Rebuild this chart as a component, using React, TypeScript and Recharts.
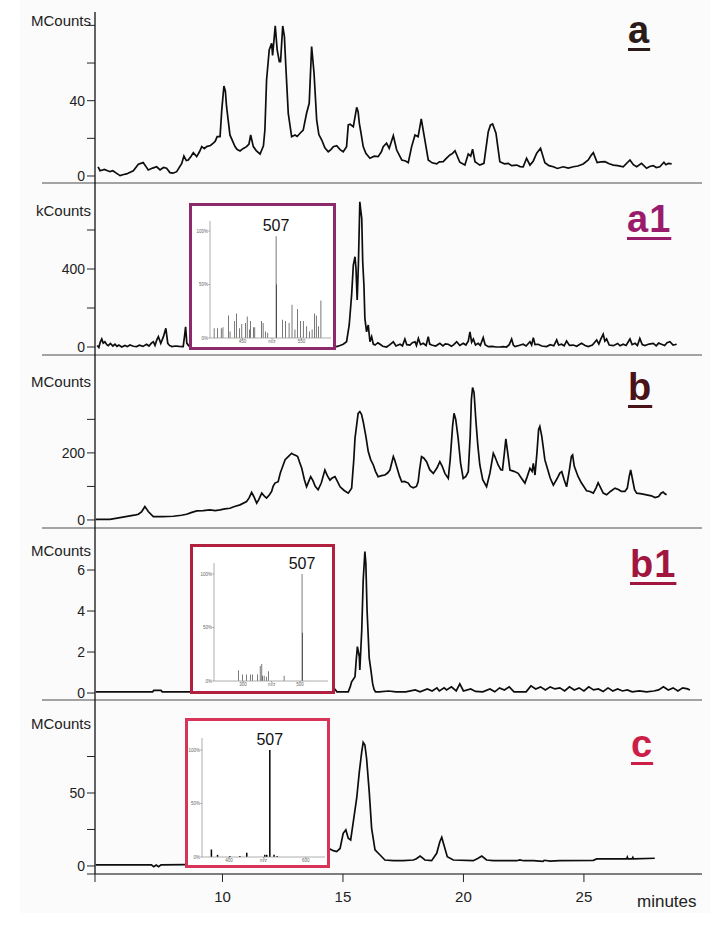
import { Bar, BarChart, LabelList, Line, LineChart, XAxis, YAxis } from "recharts";

const FONT = 'Arial, "Liberation Sans", Helvetica, sans-serif';

// shared retention-time axis (minutes)
const T_MIN = 4.71;
const T_MAX = 29.9;
const timeTicks = [T_MIN, 10, 15, 20, 25];

// [minutes, counts]
const traceA: [number, number][] = [
  [4.84, 4.9], [4.92, 2.8], [5.1, 3.5], [5.33, 2.3], [5.45, 2.8], [5.61, 1.4], [5.75, 0.2], [5.9, 0.8],
  [6.02, 1.1], [6.3, 2.8], [6.51, 6.2], [6.71, 7.1], [6.8, 5.5], [6.92, 3.2], [7.1, 4.2], [7.27, 4.9],
  [7.41, 3.2], [7.55, 4.5], [7.68, 4.1], [7.82, 1.8], [7.95, 1.5], [8.1, 2.3], [8.31, 6.7], [8.4, 10.6],
  [8.5, 8.2], [8.58, 8.5], [8.7, 10.5], [8.79, 12.4], [8.93, 10.3], [9.05, 13], [9.14, 15.6], [9.25, 14.5],
  [9.34, 15.6], [9.5, 16.2], [9.62, 17.4], [9.7, 18.5], [9.78, 20.9], [9.9, 20.9], [9.97, 35], [10.06, 47.8],
  [10.12, 45], [10.17, 36.8], [10.31, 21.8], [10.52, 15.6], [10.6, 14.2], [10.73, 13.3], [10.85, 14.5],
  [11.0, 15.6], [11.1, 17], [11.17, 21.8], [11.28, 15.6], [11.4, 13.5], [11.56, 11.7], [11.7, 16],
  [11.76, 24.4], [11.83, 51], [11.94, 67], [12.04, 70.5], [12.08, 64], [12.19, 79.7], [12.27, 67],
  [12.36, 60.7], [12.41, 60.7], [12.5, 79.7], [12.57, 74], [12.63, 58], [12.73, 33.3], [12.87, 20.9],
  [13.01, 21.8], [13.1, 21], [13.22, 22.7], [13.35, 24.4], [13.49, 33.3], [13.6, 38.6], [13.7, 68.7],
  [13.8, 54.6], [13.91, 29.7], [14.0, 22], [14.12, 19.1], [14.25, 15], [14.39, 12.9], [14.5, 14],
  [14.6, 15.6], [14.74, 16.1], [14.88, 14], [15.01, 12.9], [15.15, 15.6], [15.22, 27.1], [15.3, 27.5],
  [15.43, 26.2], [15.57, 36.5], [15.63, 34], [15.68, 28], [15.74, 23.5], [15.84, 15.6], [15.95, 12],
  [16.12, 9.4], [16.3, 10.5], [16.46, 10.3], [16.6, 13], [16.67, 15.6], [16.81, 17.4], [16.92, 14.7],
  [17.09, 21.4], [17.23, 13.8], [17.44, 8.5], [17.6, 8], [17.71, 7.1], [17.85, 15.6], [17.99, 21.8],
  [18.12, 20.9], [18.25, 30.3], [18.4, 19.1], [18.54, 8.5], [18.7, 7], [18.89, 6.4], [19.0, 7.5],
  [19.16, 7.6], [19.3, 9.5], [19.44, 11.2], [19.55, 12], [19.65, 13.4], [19.85, 7.3], [20.06, 5.8],
  [20.2, 11.7], [20.3, 10.5], [20.38, 14.2], [20.48, 7.6], [20.68, 5.8], [20.85, 6.7], [21.03, 23.5],
  [21.12, 27], [21.21, 27.6], [21.35, 22.7], [21.51, 7.6], [21.7, 6.5], [21.86, 6.7], [22.0, 5.5],
  [22.21, 5.8], [22.35, 5], [22.48, 4.9], [22.62, 9.4], [22.76, 5.8], [22.9, 8], [23.04, 12.1],
  [23.2, 14.7], [23.38, 7.1], [23.55, 5.5], [23.73, 4.9], [23.9, 4], [24.14, 4.9], [24.35, 4.2],
  [24.56, 4.9], [24.75, 5.3], [24.97, 6.4], [25.18, 8.5], [25.3, 11], [25.39, 12.4], [25.55, 7.1],
  [25.7, 7.5], [25.87, 7.6], [26.05, 6.5], [26.22, 5.8], [26.4, 5.5], [26.63, 4.9], [26.91, 8.5],
  [27.05, 6], [27.19, 4.9], [27.39, 6.7], [27.6, 4.1], [27.75, 5.2], [27.88, 5.5], [28.0, 4.5],
  [28.15, 4.9], [28.32, 7.3], [28.4, 6], [28.5, 6.7], [28.64, 6.4],
];

const traceA1: [number, number][] = [
  [4.8, 8], [4.87, -2], [4.93, 25], [4.99, 41], [5.05, 20], [5.12, 27], [5.2, 12], [5.26, 7], [5.35, 18],
  [5.45, 5], [5.54, 14], [5.62, 3], [5.7, 10], [5.82, 0], [5.95, 8], [6.05, 2], [6.16, 10], [6.3, 4],
  [6.44, 2], [6.55, 9], [6.7, 3], [6.85, 14], [6.95, 5], [7.05, 20], [7.13, 27], [7.2, 8], [7.27, 35],
  [7.34, 53], [7.44, 19], [7.55, 53], [7.65, 96], [7.73, 19], [7.8, 8], [7.9, 2], [8.05, 5], [8.2, 3],
  [8.37, 2], [8.43, 60], [8.47, 104], [8.52, 20], [8.6, 6], [9.5, 10], [10.5, 8], [11.5, 12], [12.5, 10],
  [13.5, 14], [14.5, 6], [14.74, 2], [14.88, 8], [15.01, 14], [15.15, 27], [15.26, 113], [15.36, 267],
  [15.43, 420], [15.5, 463], [15.54, 404], [15.59, 241], [15.64, 420], [15.68, 634], [15.7, 745],
  [15.74, 700], [15.78, 660], [15.82, 437], [15.87, 318], [15.91, 147], [15.98, 78], [16.05, 113],
  [16.12, 27], [16.19, 53], [16.26, 15], [16.33, 10], [16.45, 22], [16.54, 14], [16.65, 4], [16.81, 0],
  [16.95, 12], [17.09, 27], [17.2, 5], [17.37, 14], [17.47, 6], [17.57, 41], [17.65, 12], [17.78, 10],
  [17.88, 22], [17.99, 27], [18.05, 8], [18.13, 44], [18.22, 12], [18.33, 19], [18.45, 8], [18.54, 53],
  [18.6, 15], [18.68, 10], [18.85, 5], [19.02, 19], [19.15, 6], [19.25, 16], [19.37, 14], [19.5, 4],
  [19.6, 12], [19.72, 27], [19.85, 8], [19.99, 19], [20.1, 10], [20.2, 30], [20.27, 78], [20.34, 25],
  [20.41, 41], [20.5, 10], [20.61, 19], [20.7, 8], [20.82, 48], [20.9, 12], [21.03, 2], [21.2, 3],
  [21.35, 0], [21.51, 0], [21.65, 2], [21.79, 0], [21.9, 12], [22.0, 41], [22.07, 10], [22.14, 2],
  [22.3, 8], [22.48, 14], [22.6, 5], [22.76, 27], [22.83, 10], [22.9, 48], [22.97, 12], [23.1, 14],
  [23.25, 5], [23.45, 2], [23.6, 12], [23.75, 6], [23.87, 36], [23.95, 10], [24.07, 14], [24.18, 6],
  [24.28, 31], [24.4, 8], [24.56, 10], [24.7, 4], [24.9, 19], [25.05, 8], [25.18, 2], [25.35, 10],
  [25.53, 36], [25.62, 15], [25.7, 40], [25.8, 65], [25.87, 30], [25.94, 41], [26.05, 10], [26.22, 7],
  [26.4, 18], [26.5, 6], [26.63, 14], [26.75, 8], [26.91, 41], [27.0, 12], [27.12, 19], [27.22, 8],
  [27.32, 44], [27.42, 12], [27.53, 7], [27.7, 15], [27.88, 19], [28.0, 6], [28.1, 20], [28.22, 14],
  [28.35, 8], [28.45, 22], [28.57, 27], [28.7, 10], [28.85, 14],
];

const traceB: [number, number][] = [
  [4.74, 1], [4.78, 2], [5.33, 2], [5.75, 7], [6.16, 12], [6.4, 15], [6.51, 17], [6.65, 25], [6.78, 40],
  [6.85, 33], [6.92, 25], [7.13, 10], [7.5, 10], [7.96, 11], [8.3, 14], [8.51, 17], [8.7, 22], [8.93, 27],
  [9.2, 28], [9.48, 30], [9.7, 28], [9.9, 30], [10.1, 33], [10.31, 35], [10.5, 40], [10.73, 45], [11.0, 55],
  [11.1, 65], [11.21, 82], [11.3, 70], [11.42, 50], [11.5, 60], [11.63, 80], [11.75, 70], [11.83, 65],
  [11.95, 75], [12.04, 85], [12.1, 100], [12.18, 110], [12.31, 114], [12.4, 140], [12.52, 164], [12.6, 180],
  [12.73, 189], [12.87, 199], [12.95, 195], [13.05, 192], [13.12, 189], [13.2, 172], [13.29, 154],
  [13.4, 120], [13.49, 99], [13.55, 110], [13.66, 129], [13.75, 118], [13.85, 100], [13.97, 90],
  [14.1, 110], [14.25, 149], [14.35, 132], [14.46, 119], [14.55, 125], [14.67, 129], [14.75, 118],
  [14.88, 99], [15.05, 88], [15.22, 80], [15.36, 95], [15.45, 180], [15.5, 244], [15.63, 318], [15.7, 323],
  [15.77, 315], [15.84, 293], [15.95, 250], [16.05, 204], [16.15, 180], [16.26, 164], [16.35, 145],
  [16.46, 129], [16.6, 132], [16.74, 134], [16.85, 140], [16.95, 149], [17.09, 189], [17.15, 178],
  [17.23, 159], [17.35, 130], [17.44, 114], [17.55, 115], [17.71, 110], [17.8, 100], [17.92, 96],
  [18.05, 100], [18.12, 114], [18.18, 150], [18.26, 189], [18.35, 185], [18.47, 174], [18.6, 150],
  [18.75, 139], [18.9, 155], [19.02, 174], [19.12, 160], [19.23, 139], [19.37, 124], [19.45, 180],
  [19.55, 280], [19.61, 318], [19.68, 300], [19.78, 244], [19.88, 170], [19.99, 124], [20.1, 130],
  [20.2, 144], [20.28, 250], [20.33, 360], [20.38, 395], [20.44, 380], [20.52, 293], [20.6, 220],
  [20.68, 164], [20.8, 120], [20.96, 99], [21.1, 140], [21.24, 199], [21.3, 190], [21.44, 164],
  [21.55, 150], [21.62, 149], [21.7, 200], [21.76, 242], [21.82, 210], [21.93, 149], [22.1, 145],
  [22.27, 139], [22.4, 125], [22.55, 110], [22.65, 130], [22.76, 154], [22.85, 145], [22.9, 169],
  [22.97, 134], [23.05, 200], [23.12, 270], [23.17, 279], [23.25, 250], [23.38, 179], [23.5, 150],
  [23.6, 125], [23.73, 104], [23.9, 125], [24.0, 140], [24.08, 144], [24.18, 120], [24.28, 99],
  [24.4, 150], [24.48, 190], [24.53, 194], [24.6, 160], [24.76, 129], [24.9, 110], [25.11, 87],
  [25.25, 85], [25.39, 80], [25.5, 95], [25.59, 111], [25.7, 95], [25.8, 80], [25.94, 75], [26.1, 85],
  [26.29, 95], [26.45, 90], [26.55, 85], [26.7, 85], [26.8, 95], [26.88, 130], [26.94, 149], [27.02, 120],
  [27.1, 90], [27.19, 80], [27.4, 78], [27.6, 75], [27.8, 72], [27.95, 67], [28.1, 70], [28.2, 80],
  [28.29, 83], [28.36, 78], [28.43, 75],
];

const traceB1: [number, number][] = [
  [4.74, 0.06], [7.1, 0.06], [7.15, 0.13], [7.45, 0.13], [7.5, 0.06], [8.6, 0.06], [10, 0.06], [12, 0.06],
  [14.5, 0.06], [14.67, 0.18], [14.75, 0.06], [14.88, 0.06], [15.22, 0.06], [15.3, 0.3], [15.36, 0.55],
  [15.5, 0.8], [15.55, 1.6], [15.6, 2.26], [15.68, 1.77], [15.7, 1.12], [15.78, 3.07], [15.84, 5.5],
  [15.91, 6.9], [15.95, 6.33], [16.0, 4.05], [16.09, 1.7], [16.16, 1.12], [16.23, 0.47], [16.29, 0.18],
  [16.35, 0.06], [16.5, 0.06], [16.9, 0.1], [17.2, 0.06], [17.6, 0.06], [18.0, 0.15], [18.2, 0.06],
  [18.5, 0.2], [18.7, 0.1], [18.9, 0.25], [19.0, 0.1], [19.2, 0.25], [19.3, 0.15], [19.5, 0.3],
  [19.7, 0.1], [19.85, 0.45], [20.0, 0.1], [20.3, 0.2], [20.5, 0.08], [20.8, 0.06], [21.1, 0.2],
  [21.3, 0.06], [21.5, 0.25], [21.7, 0.15], [21.9, 0.3], [22.1, 0.06], [22.3, 0.06], [22.6, 0.06],
  [22.8, 0.35], [23.0, 0.2], [23.2, 0.3], [23.4, 0.15], [23.6, 0.3], [23.8, 0.2], [24.0, 0.25],
  [24.2, 0.1], [24.4, 0.3], [24.6, 0.15], [24.8, 0.25], [25.0, 0.1], [25.2, 0.3], [25.4, 0.15],
  [25.6, 0.2], [25.8, 0.08], [26.0, 0.25], [26.2, 0.1], [26.4, 0.2], [26.6, 0.1], [26.8, 0.15],
  [27.0, 0.06], [27.3, 0.1], [27.6, 0.06], [27.9, 0.1], [28.1, 0.15], [28.3, 0.3], [28.5, 0.15],
  [28.7, 0.25], [28.9, 0.1], [29.1, 0.25], [29.3, 0.2], [29.4, 0.15],
];

const traceC: [number, number][] = [
  [4.74, 0.8], [7.05, 0.8], [7.15, -0.5], [7.25, 0.6], [7.35, -0.5], [7.45, 0.8], [8.5, 0.9], [10, 1],
  [12, 1.5], [13.5, 4], [14.2, 8], [14.46, 11.6], [14.6, 10.5], [14.74, 9.8], [14.88, 12], [15.01, 22.4],
  [15.12, 24.7], [15.22, 19], [15.32, 17.8], [15.43, 30.3], [15.57, 46.4], [15.68, 64.6], [15.78, 78.3],
  [15.84, 84.7], [15.91, 82.9], [15.98, 73.8], [16.09, 50.9], [16.19, 25.8], [16.33, 11], [16.54, 7.5],
  [16.74, 4.1], [17.09, 3.6], [17.5, 3.6], [17.92, 4.1], [18.05, 5], [18.2, 6.8], [18.3, 5.5], [18.4, 4.1],
  [18.68, 3.6], [18.89, 8.7], [19.02, 16.6], [19.1, 19.7], [19.19, 14.4], [19.33, 6.4], [19.58, 4.1],
  [20.41, 3.6], [20.61, 5.3], [20.76, 6.8], [20.96, 4.1], [21.24, 3.6], [22.21, 3.6], [22.34, 4.1],
  [22.5, 3.6], [22.9, 3.6], [23.3, 3.2], [23.35, 3.9], [23.6, 3.3], [24.0, 3.6], [25.39, 3.9],
  [25.53, 4.8], [26.77, 4.8], [26.8, 6.1], [26.83, 4.8], [27.0, 4.8], [27.03, 5.8], [27.06, 4.8],
  [27.94, 5.3],
];

// inset mass spectra: [m/z, relative intensity %]
const spectrumA1: [number, number][] = [
  [402, 9], [408, 9], [414, 9], [417, 10], [426, 21], [429, 6], [437, 16], [440, 23], [445, 9], [449, 13],
  [455, 14], [458, 20], [462, 8], [464, 16], [469, 10], [471, 10], [482, 16], [485, 14], [489, 6], [493, 5],
  [507, 95], [508, 50], [518, 17], [523, 16], [529, 14], [534, 31], [539, 8], [543, 27], [548, 16],
  [553, 16], [559, 11], [564, 6], [568, 8], [572, 23], [575, 21], [579, 11], [583, 35],
];
const spectrumB1: [number, number][] = [
  [284, 10], [299, 6], [313, 6], [327, 6], [333, 6], [350, 6], [360, 14], [366, 16], [369, 5], [374, 5],
  [383, 4], [390, 9], [444, 5], [507, 100], [509, 45],
];
const spectrumC: [number, number][] = [
  [355, 7], [371, 2], [403, 1], [429, 1], [447, 4], [494, 2], [499, 2], [507, 100], [518, 2], [526, 1],
];

const traceColor = "#0d0d0d";

function Panel({
  trace, top, bottom, domain, ticks, shown, bottomAxis,
}: {
  trace: [number, number][]; top: number; bottom: number; domain: [number, number];
  ticks: number[]; shown: number[]; bottomAxis?: boolean;
}) {
  const data = trace.map(([t, v]) => ({ t, v }));
  const axisH = bottomAxis ? 40 : 0;
  return (
    <div style={{ position: "absolute", left: 0, top }}>
      <LineChart width={720} height={bottom - top + axisH} data={data} margin={{ top: 0, right: 18, bottom: 0, left: 40 }}>
        <XAxis
          dataKey="t"
          type="number"
          domain={[T_MIN, T_MAX]}
          allowDataOverflow
          ticks={timeTicks}
          interval={0}
          hide={!bottomAxis}
          height={axisH}
          tickSize={8}
          tickMargin={9}
          tickFormatter={(v: number) => (v === T_MIN ? "" : String(v))}
          tick={{ fontSize: 15, fill: "#222" }}
          axisLine={{ stroke: "#555", strokeWidth: 1.5 }}
          tickLine={{ stroke: "#222" }}
        />
        <YAxis
          type="number"
          domain={domain}
          allowDataOverflow
          ticks={ticks}
          interval={0}
          width={55}
          tickSize={8}
          tickMargin={2}
          tickFormatter={(v: number) => (shown.includes(v) ? String(v) : "")}
          tick={{ fontSize: 14, fill: "#222" }}
          axisLine={{ stroke: "#111", strokeWidth: 1.3 }}
          tickLine={{ stroke: "#222" }}
        />
        <Line type="linear" dataKey="v" stroke={traceColor} strokeWidth={1.7} dot={false} isAnimationActive={false} />
      </LineChart>
    </div>
  );
}

function Inset({
  spectrum, box, plot, p100, color, xDomain, xTicks, mzAt,
}: {
  spectrum: [number, number][];
  box: { left: number; top: number; width: number; height: number };
  plot: { left: number; right: number; top: number; bottom: number };
  p100: number; color: string; xDomain: [number, number]; xTicks: number[]; mzAt: number;
}) {
  const bw = 3;
  const innerL = box.left + bw;
  const innerT = box.top + bw;
  const w = box.width - 2 * bw;
  const h = box.height - 2 * bw;
  const yMax = ((plot.bottom - plot.top) / (plot.bottom - p100)) * 100;
  const data = spectrum.map(([mz, i]) => ({ mz, i, tag: mz === 507 ? "507" : "" }));
  return (
    <div
      style={{
        position: "absolute", left: box.left, top: box.top, width: w, height: h,
        border: `${bw}px solid ${color}`, background: "#fff",
      }}
    >
      <BarChart
        width={w}
        height={h}
        data={data}
        margin={{ top: plot.top - innerT, right: innerL + w - plot.right, bottom: 0, left: 0 }}
      >
        <XAxis
          dataKey="mz"
          type="number"
          domain={xDomain}
          allowDataOverflow
          ticks={xTicks}
          interval={0}
          height={innerT + h - plot.bottom}
          tickSize={1.5}
          tickMargin={0.5}
          tickFormatter={(v: number) => (v === mzAt ? "m/z" : String(v))}
          tick={{ fontSize: 4.5, fill: "#666" }}
          axisLine={{ stroke: "#999", strokeWidth: 0.8 }}
          tickLine={{ stroke: "#999" }}
        />
        <YAxis
          type="number"
          domain={[0, yMax]}
          allowDataOverflow
          ticks={[0, 50, 100]}
          interval={0}
          width={plot.left - innerL}
          tickSize={1.5}
          tickMargin={0.5}
          tickFormatter={(v: number) => `${v}%`}
          tick={{ fontSize: 4.5, fill: "#666" }}
          axisLine={{ stroke: "#999", strokeWidth: 0.8 }}
          tickLine={{ stroke: "#999" }}
        />
        <Bar dataKey="i" fill="#000" barSize={1.5} isAnimationActive={false}>
          <LabelList dataKey="tag" position="top" offset={5} fontSize={16} fill="#111" />
        </Bar>
      </BarChart>
    </div>
  );
}

function Unit({ text, y }: { text: string; y: number }) {
  return (
    <div
      style={{
        position: "absolute", right: 720 - 91, top: y - 7.5, fontSize: 15, lineHeight: "15px",
        color: "#222", whiteSpace: "nowrap",
      }}
    >
      {text}
    </div>
  );
}

function Tag({ text, x, baseline, color }: { text: string; x: number; baseline: number; color: string }) {
  return (
    <div
      style={{
        position: "absolute", left: x, top: baseline - 32, fontSize: 38, lineHeight: "38px",
        fontWeight: "bold", color, letterSpacing: 1, textDecoration: "underline",
        textDecorationThickness: "3px", textUnderlineOffset: "5px",
      }}
    >
      {text}
    </div>
  );
}

function Rule({ y }: { y: number }) {
  return <div style={{ position: "absolute", left: 42, top: y - 1, width: 660, height: 2, background: "#a3a3a3" }} />;
}

export default function App() {
  return (
    <div
      style={{
        position: "absolute", left: 0, top: 0, width: 720, height: 930, background: "#fff",
        fontFamily: FONT, overflow: "hidden",
      }}
    >
      <div style={{ position: "absolute", left: 20, top: 0, width: 690, height: 913, background: "#fbfbfb" }} />
      <Rule y={183} />
      <Rule y={355} />
      <Rule y={528} />
      <Rule y={700} />

      <Panel trace={traceA} top={12} bottom={183} domain={[-3.72, 87.1]} ticks={[0, 20, 40, 60, 80]} shown={[0, 40]} />
      <Panel trace={traceA1} top={183} bottom={355} domain={[-41, 841]} ticks={[0, 200, 400, 600]} shown={[0, 400]} />
      <Panel trace={traceB} top={355} bottom={528} domain={[-24, 492]} ticks={[0, 100, 200, 300]} shown={[0, 200]} />
      <Panel trace={traceB1} top={528} bottom={700} domain={[-0.34, 8.05]} ticks={[0, 2, 4, 6]} shown={[0, 2, 4, 6]} />
      <Panel
        trace={traceC}
        top={700}
        bottom={874}
        domain={[-5.5, 113.7]}
        ticks={[-5.5, 0, 25, 50, 75]}
        shown={[0, 50]}
        bottomAxis
      />

      <Inset
        spectrum={spectrumA1}
        box={{ left: 189, top: 203, width: 147, height: 147 }}
        plot={{ left: 210, right: 331, top: 221, bottom: 338 }}
        p100={231}
        color="#8b2b6b"
        xDomain={[395, 600]}
        xTicks={[450, 500, 550]}
        mzAt={500}
      />
      <Inset
        spectrum={spectrumB1}
        box={{ left: 190, top: 544, width: 145, height: 150 }}
        plot={{ left: 214, right: 328, top: 563, bottom: 681 }}
        p100={574}
        color="#b1213f"
        xDomain={[198, 598]}
        xTicks={[300, 400, 500]}
        mzAt={400}
      />
      <Inset
        spectrum={spectrumC}
        box={{ left: 185, top: 718, width: 145, height: 150 }}
        plot={{ left: 202, right: 325, top: 738, bottom: 857 }}
        p100={750}
        color="#d8345a"
        xDomain={[330, 650]}
        xTicks={[400, 490, 600]}
        mzAt={490}
      />

      <Unit text="MCounts" y={20} />
      <Unit text="kCounts" y={210} />
      <Unit text="MCounts" y={381} />
      <Unit text="MCounts" y={550} />
      <Unit text="MCounts" y={723} />

      <Tag text="a" x={628} baseline={43} color="#2a1a1a" />
      <Tag text="a1" x={627} baseline={232} color="#9a1b6c" />
      <Tag text="b" x={628} baseline={400} color="#4a1318" />
      <Tag text="b1" x={630} baseline={577} color="#a0163e" />
      <Tag text="c" x={631} baseline={757} color="#cc1f48" />

      <div style={{ position: "absolute", left: 637, top: 893, fontSize: 17, lineHeight: "17px", color: "#222" }}>
        minutes
      </div>
    </div>
  );
}
